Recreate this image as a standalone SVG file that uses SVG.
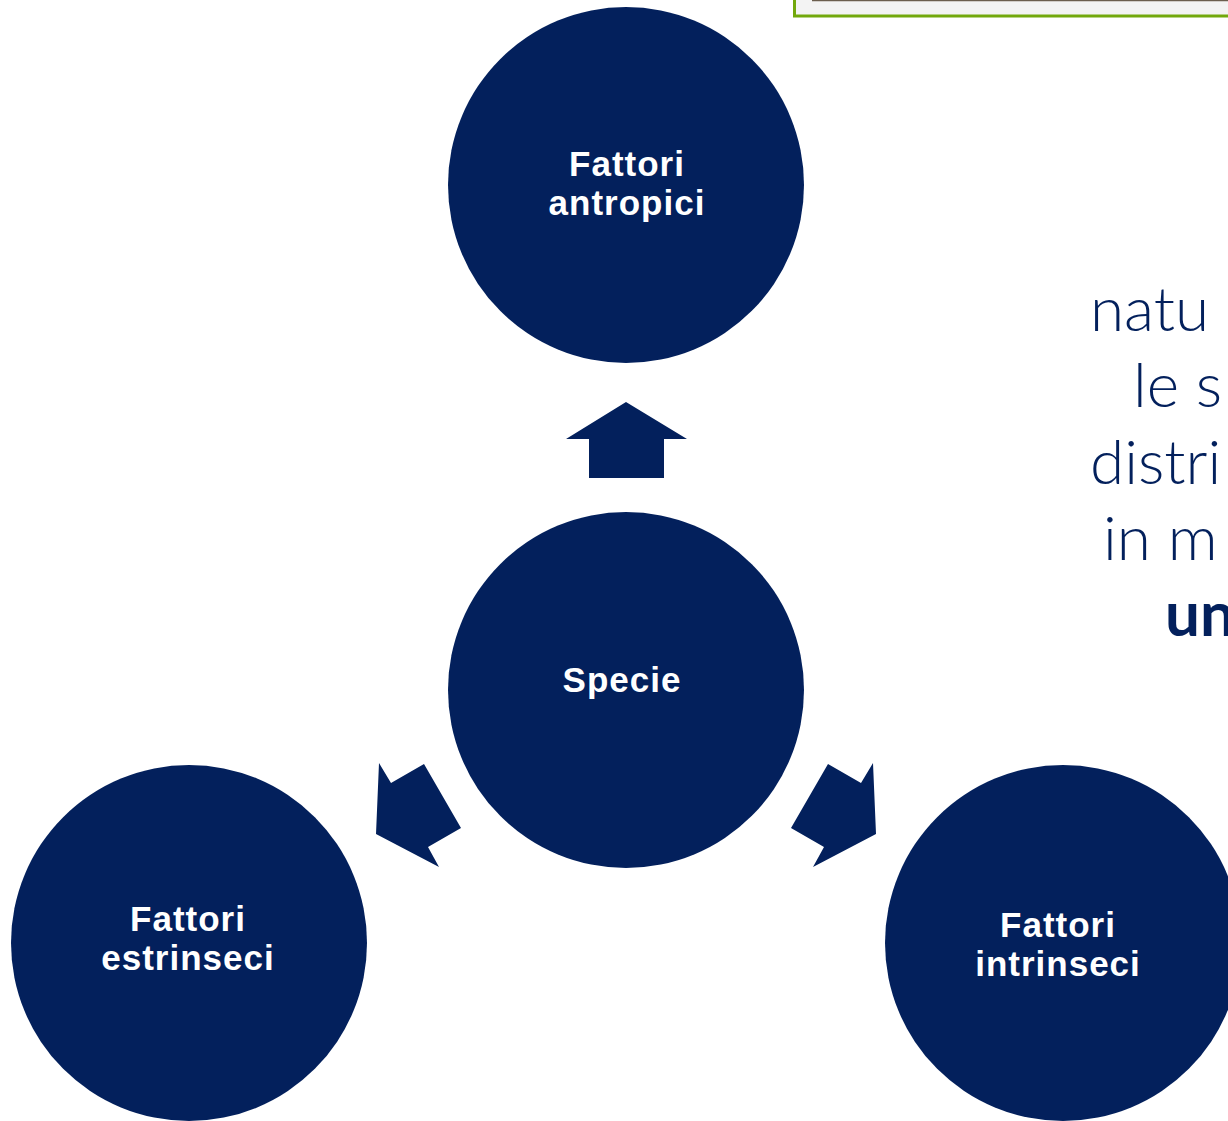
<svg xmlns="http://www.w3.org/2000/svg" width="1228" height="1121" viewBox="0 0 1228 1121">
<style>
.node{fill:#03205c}
.lbl{font-family:"Liberation Sans",Arial,sans-serif;font-weight:bold;font-size:35px;letter-spacing:1px;fill:#ffffff;text-anchor:middle}
.side{font-family:Lato,"Liberation Sans",sans-serif;font-weight:300;font-size:62px;fill:#03205c}
.side.b{font-weight:bold}
.arrow{fill:#03205c}
</style>
<rect width="1228" height="1121" fill="#ffffff"/>
<g id="topbox">
<rect x="794.5" y="-20" width="460" height="36" fill="#f3f3f3" stroke="#72a80c" stroke-width="3"/>
<line x1="812" y1="0.5" x2="1228" y2="0.5" stroke="#6b5e4e" stroke-width="1.5"/>
</g>
<g id="sidetext">
<text class="side" x="1090" y="331">natu</text>
<text class="side" x="1133" y="407">le s</text>
<text class="side" x="1090" y="484">distri</text>
<text class="side" x="1103" y="560">in m</text>
<text class="side b" x="1165" y="636">un</text>
</g>
<g id="connectors">
<polygon class="arrow" points="626,402 687,439 664,439 664,478 589,478 589,439 566,439"/>
<polygon class="arrow" points="376,834 379,763 391,783 424,764 461,828 428,847 439,867"/>
<polygon class="arrow" points="876,834 873,763 861,783 828,764 791,828 824,847 813,867"/>
</g>
<g id="node-antropici">
<circle class="node" cx="626" cy="185" r="178"/>
<text class="lbl" x="627" y="176">Fattori</text>
<text class="lbl" x="627" y="215">antropici</text>
</g>
<g id="node-specie">
<circle class="node" cx="626" cy="690" r="178"/>
<text class="lbl" x="622" y="692">Specie</text>
</g>
<g id="node-estrinseci">
<circle class="node" cx="189" cy="943" r="178"/>
<text class="lbl" x="188" y="931">Fattori</text>
<text class="lbl" x="188" y="970">estrinseci</text>
</g>
<g id="node-intrinseci">
<circle class="node" cx="1063" cy="943" r="178"/>
<text class="lbl" x="1058" y="937">Fattori</text>
<text class="lbl" x="1058" y="976">intrinseci</text>
</g>
</svg>
